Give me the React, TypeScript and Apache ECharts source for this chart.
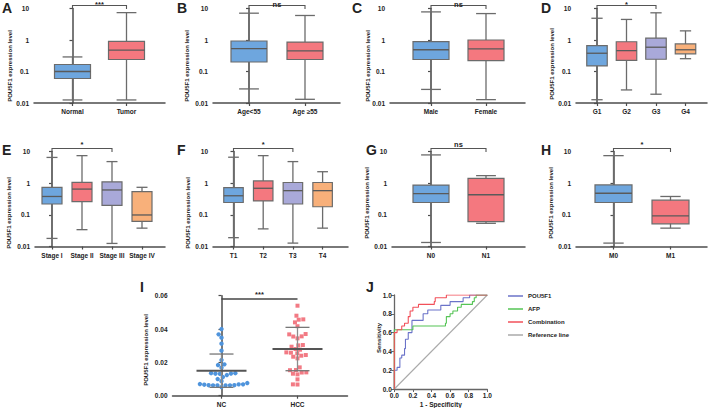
import React, { useEffect, useRef } from 'react';
import * as echarts from 'echarts';

const FONT = '"Liberation Sans", Arial, Helvetica, sans-serif';
const TXT = '#222222';
const AX = '#4d4d4d';
const BOXLINE = '#6b6b6b';
const BLUE = '#6ea6de';
const RED = '#f4787f';
const PURPLE = '#a9a9d9';
const ORANGE = '#f8b07a';
const NC_COLOR = '#4f94dc';
const HCC_COLOR = '#f27a84';

// ---------- Box plot data: [min, Q1, median, Q3, max] ----------
const catsA = ['Normal', 'Tumor'];
const boxA = [[0.0125, 0.06, 0.1, 0.167, 0.29], [0.0125, 0.24, 0.48, 0.91, 7.4]];
const catsB = ['Age<55', 'Age \u226555'];
const boxB = [[0.028, 0.2, 0.53, 0.93, 7.1], [0.0131, 0.24, 0.45, 0.86, 6.0]];
const catsC = ['Male', 'Female'];
const boxC = [[0.027, 0.24, 0.49, 0.89, 7.8], [0.0128, 0.22, 0.52, 1.0, 6.9]];
const catsD = ['G1', 'G2', 'G3', 'G4'];
const boxD = [[0.0127, 0.15, 0.38, 0.66, 4.9], [0.026, 0.225, 0.46, 0.88, 4.5], [0.019, 0.245, 0.59, 1.15, 7.3], [0.255, 0.365, 0.49, 0.75, 1.95]];
const catsE = ['Stage I', 'Stage II', 'Stage III', 'Stage IV'];
const boxE = [[0.018, 0.22, 0.38, 0.74, 6.5], [0.034, 0.26, 0.65, 1.06, 7.4], [0.0125, 0.2, 0.61, 1.1, 4.8], [0.038, 0.062, 0.099, 0.54, 0.74]];
const catsF = ['T1', 'T2', 'T3', 'T4'];
const boxF = [[0.019, 0.245, 0.4, 0.72, 6.6], [0.036, 0.275, 0.69, 1.18, 7.4], [0.0128, 0.22, 0.58, 1.05, 4.8], [0.038, 0.18, 0.58, 1.05, 2.3]];
const catsG = ['N0', 'N1'];
const boxG = [[0.0134, 0.245, 0.47, 0.87, 7.8], [0.054, 0.061, 0.43, 1.41, 1.73]];
const catsH = ['M0', 'M1'];
const boxH = [[0.0128, 0.245, 0.48, 0.88, 7.4], [0.038, 0.052, 0.093, 0.29, 0.38]];

// significance brackets: [fromIndex, toIndex], label
const sigA = { from: 0, to: 1, label: '***' };
const sigB = { from: 0, to: 1, label: 'ns' };
const sigC = { from: 0, to: 1, label: 'ns' };
const sigD = { from: 0, to: 2, label: '*' };
const sigE = { from: 0, to: 2, label: '*' };
const sigF = { from: 0, to: 2, label: '*' };
const sigG = { from: 0, to: 1, label: 'ns' };
const sigH = { from: 0, to: 1, label: '*' };

const logTicks = [0.01, 0.1, 1, 10];

// ---------- Panel I: scatter ----------
const catsI = ['NC', 'HCC'];
const ncValues = [0.040, 0.0368, 0.0348, 0.0312, 0.027, 0.0214, 0.0188, 0.0184, 0.0168, 0.0135, 0.0132, 0.0131, 0.0133, 0.0135, 0.0124, 0.0112, 0.0100, 0.0087, 0.0076, 0.0068, 0.0070, 0.0068, 0.0066, 0.0062, 0.0062, 0.0063, 0.0062, 0.0062, 0.0063, 0.0052];
const hccValues = [0.054, 0.048, 0.0458, 0.0456, 0.044, 0.0417, 0.037, 0.0368, 0.0355, 0.0356, 0.0344, 0.0302, 0.0304, 0.0294, 0.028, 0.0276, 0.026, 0.0258, 0.0254, 0.0244, 0.0234, 0.024, 0.0224, 0.017, 0.0154, 0.0153, 0.014, 0.0139, 0.0128, 0.0132, 0.0098, 0.0068, 0.0067];
// [group, mean, mean-SD, mean+SD]
const statsI = [[0, 0.015, 0.005, 0.025], [1, 0.028, 0.015, 0.041]];
const sigI = { from: 0, to: 1, y: 0.058, label: '***' };
const ticksI = [0, 0.02, 0.04, 0.06];

// ---------- Panel J: ROC ----------
const rocPOU5F1 = [[0, 0], [0, 0.2], [0.03, 0.2], [0.03, 0.23], [0.06, 0.23], [0.06, 0.33], [0.08, 0.33], [0.08, 0.36], [0.11, 0.36], [0.11, 0.43], [0.12, 0.43], [0.12, 0.53], [0.15, 0.53], [0.15, 0.6], [0.19, 0.6], [0.19, 0.73], [0.31, 0.73], [0.31, 0.8], [0.36, 0.8], [0.36, 0.84], [0.5, 0.84], [0.5, 0.89], [0.6, 0.89], [0.6, 0.93], [0.74, 0.93], [0.74, 0.97], [0.81, 0.97], [0.81, 1.0], [1, 1]];
const rocAFP = [[0, 0], [0, 0.63], [0.2, 0.63], [0.2, 0.67], [0.55, 0.67], [0.55, 0.7], [0.56, 0.7], [0.56, 0.77], [0.6, 0.77], [0.6, 0.8], [0.63, 0.8], [0.63, 0.83], [0.68, 0.83], [0.68, 0.87], [0.72, 0.87], [0.72, 0.9], [0.84, 0.9], [0.84, 0.93], [0.86, 0.93], [0.86, 0.97], [0.88, 0.97], [0.88, 1.0], [1, 1]];
const rocCombination = [[0, 0], [0, 0.6], [0.03, 0.6], [0.03, 0.63], [0.08, 0.63], [0.08, 0.67], [0.11, 0.67], [0.11, 0.7], [0.15, 0.7], [0.15, 0.77], [0.17, 0.77], [0.17, 0.83], [0.2, 0.83], [0.2, 0.87], [0.26, 0.87], [0.26, 0.9], [0.43, 0.9], [0.43, 0.93], [0.44, 0.93], [0.44, 0.97], [0.56, 0.97], [0.56, 1.0], [1, 1]];
const rocReference = [[0, 0], [1, 1]];
const rocNames = ['POU5F1', 'AFP', 'Combination', 'Reference line'];
const rocColors = ['#6b73c9', '#55c455', '#f2505a', '#aaaaaa'];

// ---------- layout (pixels) ----------
const ROW1 = { T: 8.5, B: 103 };
const ROW2 = { T: 151.5, B: 246.5 };
const panels = [
  { letter: 'A', cats: catsA, boxes: boxA, sig: sigA, colors: [BLUE, RED], L: 34, R: 165, row: ROW1, c0: 72.5, sp: 54, bw: 36, lp: [2, 8], tp: [10, 66] },
  { letter: 'B', cats: catsB, boxes: boxB, sig: sigB, colors: [BLUE, RED], L: 213, R: 340, row: ROW1, c0: 249, sp: 56, bw: 36, lp: [177, 8], tp: [187, 66] },
  { letter: 'C', cats: catsC, boxes: boxC, sig: sigC, colors: [BLUE, RED], L: 390, R: 525, row: ROW1, c0: 431, sp: 55, bw: 36, lp: [352, 8], tp: [368, 66] },
  { letter: 'D', cats: catsD, boxes: boxD, sig: sigD, colors: [BLUE, RED, PURPLE, ORANGE], L: 576, R: 707, row: ROW1, c0: 597, sp: 29.5, bw: 20.5, lp: [541, 8], tp: [552, 64] },
  { letter: 'E', cats: catsE, boxes: boxE, sig: sigE, colors: [BLUE, RED, PURPLE, ORANGE], L: 35, R: 165, row: ROW2, c0: 52, sp: 30, bw: 20, lp: [2, 150], tp: [9, 213] },
  { letter: 'F', cats: catsF, boxes: boxF, sig: sigF, colors: [BLUE, RED, PURPLE, ORANGE], L: 213, R: 348, row: ROW2, c0: 233.5, sp: 29.7, bw: 19.5, lp: [177, 150], tp: [188, 213] },
  { letter: 'G', cats: catsG, boxes: boxG, sig: sigG, colors: [BLUE, RED], L: 392, R: 525, row: ROW2, c0: 431, sp: 55, bw: 36, lp: [366, 150], tp: [367, 203] },
  { letter: 'H', cats: catsH, boxes: boxH, sig: sigH, colors: [BLUE, RED], L: 576, R: 707, row: ROW2, c0: 613.5, sp: 57, bw: 37, lp: [541, 150], tp: [551, 203] },
];
const GI = { L: 172.5, R: 347.5, T: 295.7, B: 395.7, c0: 221.5, sp: 76 };
const GJ = { L: 394.3, T: 295, W: 93, H: 94 };

const labelStyle = { fontFamily: FONT, fontWeight: 'bold' as const, color: TXT, fontSize: 6.5 };

function textStyle(text: string, x: number, y: number, size: number, align = 'center', valign = 'middle') {
  return {
    text, x, y, fill: TXT, fontSize: size, fontWeight: 'bold', fontFamily: FONT,
    align, verticalAlign: valign, textAlign: align, textVerticalAlign: valign,
  };
}

function fmtLog(v: number) {
  const e = Math.round(Math.log10(v));
  return e >= 0 ? String(Math.round(Math.pow(10, e))) : Math.pow(10, e).toFixed(-e);
}

// beeswarm offsets (in x data units) so dots don't overlap
function swarm(values: number[], pxX: number, pxY: number, d: number): number[] {
  const order = values.map((_, i) => i).sort((a, b) => values[a] - values[b]);
  const placed: { x: number; y: number }[] = [];
  const out = new Array(values.length).fill(0);
  for (const i of order) {
    const y = values[i] * pxY;
    const forb: [number, number][] = [];
    for (const p of placed) {
      const dy = Math.abs(p.y - y);
      if (dy < d) {
        const w = Math.sqrt(d * d - dy * dy);
        forb.push([p.x - w, p.x + w]);
      }
    }
    const cands = [0];
    forb.forEach(([a, b]) => cands.push(a, b));
    cands.sort((a, b) => Math.abs(a) - Math.abs(b) || a - b);
    let x = 0;
    for (const c of cands) {
      if (forb.every(([a, b]) => c <= a + 1e-6 || c >= b - 1e-6)) { x = c; break; }
    }
    placed.push({ x, y });
    out[i] = x / pxX;
  }
  return out;
}

const boxRender = (colors: string[], bw: number) => (params: any, api: any) => {
  const x = api.value(0);
  const v = [1, 2, 3, 4, 5].map((k) => api.value(k));
  const pMin = api.coord([x, v[0]]);
  const pQ1 = api.coord([x, v[1]]);
  const pMed = api.coord([x, v[2]]);
  const pQ3 = api.coord([x, v[3]]);
  const pMax = api.coord([x, v[4]]);
  const cw = bw * 0.55;
  const cx = pMed[0];
  const ls = { stroke: BOXLINE, lineWidth: 1.3, fill: 'none' };
  return {
    type: 'group',
    children: [
      { type: 'line', shape: { x1: cx, y1: pMax[1], x2: cx, y2: pMin[1] }, style: ls },
      { type: 'line', shape: { x1: cx - cw / 2, y1: pMax[1], x2: cx + cw / 2, y2: pMax[1] }, style: ls },
      { type: 'line', shape: { x1: cx - cw / 2, y1: pMin[1], x2: cx + cw / 2, y2: pMin[1] }, style: ls },
      { type: 'rect', shape: { x: cx - bw / 2, y: pQ3[1], width: bw, height: pQ1[1] - pQ3[1] }, style: { fill: colors[params.dataIndex], stroke: BOXLINE, lineWidth: 1.2 } },
      { type: 'line', shape: { x1: cx - bw / 2, y1: pMed[1], x2: cx + bw / 2, y2: pMed[1] }, style: { stroke: '#5a5a5a', lineWidth: 1.3, fill: 'none' } },
    ],
  };
};

const bracketRender = (label: string) => (params: any, api: any) => {
  const a = api.coord([api.value(0), 10]);
  const b = api.coord([api.value(1), 10]);
  const y = a[1] - 3;
  const textTop = Math.max(0, y - 8.5);
  return {
    type: 'group',
    children: [
      { type: 'polyline', shape: { points: [[a[0], y + 3.5], [a[0], y], [b[0], y], [b[0], y + 3.5]] }, style: { stroke: '#555', lineWidth: 1.1, fill: 'none' } },
      { type: 'text', style: textStyle(label, (a[0] + b[0]) / 2, textTop, 7.5, 'center', 'top') },
    ],
  };
};

function buildOption() {
  const grid: any[] = [];
  const xAxis: any[] = [];
  const yAxis: any[] = [];
  const series: any[] = [];
  const graphic: any[] = [];
  const axLine = { show: true, lineStyle: { color: AX, width: 1.5 } };
  const axTick = { show: true, length: 3, lineStyle: { color: AX, width: 1.2 } };

  panels.forEach((p, i) => {
    const width = p.R - p.L;
    const xmin = -(p.c0 - p.L) / p.sp;
    const xmax = xmin + width / p.sp;
    const idx = p.cats.map((_, k) => k);
    grid.push({ left: p.L, top: p.row.T, width, height: p.row.B - p.row.T, containLabel: false, outerBoundsMode: 'none' });
    xAxis.push({
      type: 'value', gridIndex: i, min: xmin, max: xmax,
      axisLine: { ...axLine, onZero: false },
      axisTick: { ...axTick, customValues: idx },
      axisLabel: { ...labelStyle, customValues: idx, margin: 5, formatter: (v: number) => p.cats[Math.round(v)] ?? '' },
      splitLine: { show: false },
    });
    yAxis.push({
      type: 'log', logBase: 10, gridIndex: i, min: logTicks[0], max: logTicks[logTicks.length - 1], splitNumber: 3,
      axisLine: axLine, axisTick: axTick,
      axisLabel: { ...labelStyle, margin: 5, formatter: fmtLog },
      splitLine: { show: false }, minorTick: { show: false },
    });
    series.push({
      type: 'custom', xAxisIndex: i, yAxisIndex: i, z: 3,
      data: p.boxes.map((b, k) => [k, ...b]),
      renderItem: boxRender(p.colors, p.bw),
    });
    series.push({
      type: 'custom', xAxisIndex: i, yAxisIndex: i, z: 4,
      data: [[p.sig.from, p.sig.to]],
      renderItem: bracketRender(p.sig.label),
    });
    graphic.push({ type: 'text', style: textStyle(p.letter, p.lp[0], p.lp[1], 14, 'left', 'middle') });
    graphic.push({ type: 'text', x: p.tp[0], y: p.tp[1], rotation: Math.PI / 2, style: textStyle('POU5F1 expression level', 0, 0, 6, 'center', 'middle') });
  });

  // ---------- Panel I ----------
  const iI = panels.length;
  const xminI = -(GI.c0 - GI.L) / GI.sp;
  const xmaxI = xminI + (GI.R - GI.L) / GI.sp;
  const pxY = (GI.B - GI.T) / ticksI[ticksI.length - 1];
  const offNC = swarm(ncValues, GI.sp, pxY, 4.4);
  const offHCC = swarm(hccValues, GI.sp, pxY, 4.6);
  grid.push({ left: GI.L, top: GI.T, width: GI.R - GI.L, height: GI.B - GI.T, containLabel: false, outerBoundsMode: 'none' });
  xAxis.push({
    type: 'value', gridIndex: iI, min: xminI, max: xmaxI,
    axisLine: { ...axLine, onZero: false },
    axisTick: { ...axTick, customValues: [0, 1] },
    axisLabel: { ...labelStyle, customValues: [0, 1], margin: 5, formatter: (v: number) => catsI[Math.round(v)] ?? '' },
    splitLine: { show: false },
  });
  yAxis.push({
    type: 'value', gridIndex: iI, min: ticksI[0], max: ticksI[ticksI.length - 1], interval: 0.02,
    axisLine: axLine, axisTick: axTick,
    axisLabel: { ...labelStyle, margin: 5, formatter: (v: number) => v.toFixed(2) },
    splitLine: { show: false },
  });
  series.push({
    type: 'scatter', xAxisIndex: iI, yAxisIndex: iI, z: 3, symbol: 'circle', symbolSize: 4.4,
    itemStyle: { color: NC_COLOR, opacity: 1 },
    data: ncValues.map((v, k) => [0 + offNC[k], v]),
  });
  series.push({
    type: 'scatter', xAxisIndex: iI, yAxisIndex: iI, z: 3, symbol: 'rect', symbolSize: 4,
    itemStyle: { color: HCC_COLOR, opacity: 1 },
    data: hccValues.map((v, k) => [1 + offHCC[k], v]),
  });
  series.push({
    type: 'custom', xAxisIndex: iI, yAxisIndex: iI, z: 5,
    data: statsI,
    renderItem: (params: any, api: any) => {
      const x = api.value(0);
      const pm = api.coord([x, api.value(1)]);
      const pl = api.coord([x, api.value(2)]);
      const ph = api.coord([x, api.value(3)]);
      const cx = pm[0];
      return {
        type: 'group',
        children: [
          { type: 'line', shape: { x1: cx, y1: pl[1], x2: cx, y2: ph[1] }, style: { stroke: '#8c8c8c', lineWidth: 1.3, fill: 'none' } },
          { type: 'line', shape: { x1: cx - 12, y1: pl[1], x2: cx + 12, y2: pl[1] }, style: { stroke: '#777', lineWidth: 1.3, fill: 'none' } },
          { type: 'line', shape: { x1: cx - 12, y1: ph[1], x2: cx + 12, y2: ph[1] }, style: { stroke: '#777', lineWidth: 1.3, fill: 'none' } },
          { type: 'line', shape: { x1: cx - 25, y1: pm[1], x2: cx + 25, y2: pm[1] }, style: { stroke: '#555', lineWidth: 2, fill: 'none' } },
        ],
      };
    },
  });
  series.push({
    type: 'custom', xAxisIndex: iI, yAxisIndex: iI, z: 5,
    data: [[sigI.from, sigI.y, sigI.to]],
    renderItem: (params: any, api: any) => {
      const a = api.coord([api.value(0), api.value(1)]);
      const b = api.coord([api.value(2), api.value(1)]);
      return {
        type: 'group',
        children: [
          { type: 'line', shape: { x1: a[0], y1: a[1], x2: b[0], y2: b[1] }, style: { stroke: '#444', lineWidth: 1.4, fill: 'none' } },
          { type: 'text', style: textStyle(sigI.label, (a[0] + b[0]) / 2, a[1] - 0.5, 7.5, 'center', 'bottom') },
        ],
      };
    },
  });
  graphic.push({ type: 'text', style: textStyle('I', 140, 287, 14, 'left', 'middle') });
  graphic.push({ type: 'text', x: 146, y: 350, rotation: Math.PI / 2, style: textStyle('POU5F1 expression level', 0, 0, 6, 'center', 'middle') });

  // ---------- Panel J ----------
  const iJ = iI + 1;
  grid.push({ left: GJ.L, top: GJ.T, width: GJ.W, height: GJ.H, containLabel: false, outerBoundsMode: 'none' });
  const jLine = { show: true, lineStyle: { color: '#666', width: 1.3 } };
  const jTick = { show: true, length: 3, lineStyle: { color: '#666', width: 1 } };
  xAxis.push({
    type: 'value', gridIndex: iJ, min: 0, max: 1, interval: 0.2,
    axisLine: { ...jLine, onZero: false }, axisTick: jTick,
    axisLabel: { ...labelStyle, margin: 3, formatter: (v: number) => v.toFixed(1) },
    splitLine: { show: false },
    name: '1 - Specificity', nameLocation: 'middle', nameGap: 12,
    nameTextStyle: { fontFamily: FONT, fontWeight: 'bold', fontSize: 6.5, color: TXT },
  });
  yAxis.push({
    type: 'value', gridIndex: iJ, min: 0, max: 1, interval: 0.2,
    axisLine: { ...jLine, onZero: false }, axisTick: jTick,
    axisLabel: { ...labelStyle, margin: 2.5, formatter: (v: number) => v.toFixed(1) },
    splitLine: { show: false },
  });
  graphic.push({ type: 'text', x: 378.5, y: 338, rotation: Math.PI / 2, style: textStyle('Sensitivity', 0, 0, 6, 'center', 'middle') });
  graphic.push({ type: 'text', style: textStyle('J', 366, 287, 14, 'left', 'middle') });
  const rocData = [rocPOU5F1, rocAFP, rocCombination, rocReference];
  [3, 1, 0, 2].forEach((k) => {
    series.push({
      type: 'line', name: rocNames[k], xAxisIndex: iJ, yAxisIndex: iJ, z: k === 3 ? 2 : 3 + k,
      data: rocData[k], symbol: 'none', showSymbol: false,
      lineStyle: { color: rocColors[k], width: 1.1 }, itemStyle: { color: rocColors[k] },
    });
  });

  return {
    animation: false,
    backgroundColor: '#ffffff',
    grid, xAxis, yAxis, series, graphic,
    legend: {
      data: rocNames.map((n) => ({ name: n, icon: 'rect' })), orient: 'vertical', left: 508, top: 293,
      itemWidth: 15, itemHeight: 1.5, itemGap: 7, padding: 0,
      textStyle: { fontFamily: FONT, fontWeight: 'bold', fontSize: 6, color: TXT },
      selectedMode: false,
    },
  };
}

export default function App() {
  const ref = useRef<HTMLDivElement>(null);
  useEffect(() => {
    const chart = echarts.init(ref.current!, undefined, { renderer: 'svg' });
    chart.setOption(buildOption() as any);
    return () => chart.dispose();
  }, []);
  return <div ref={ref} style={{ position: 'fixed', left: 0, top: 0, width: 709, height: 408, background: '#fff' }} />;
}
